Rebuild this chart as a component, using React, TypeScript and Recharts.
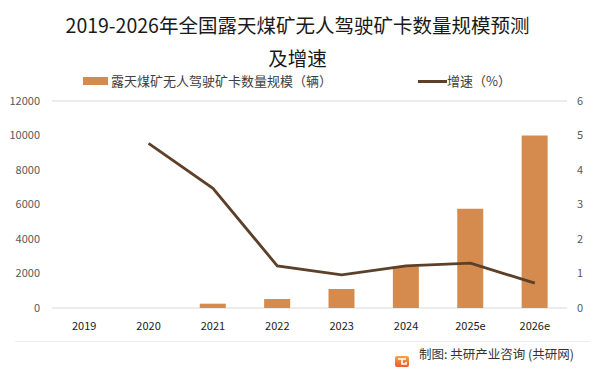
import React from "react";
import {
  ComposedChart,
  Bar,
  Line,
  XAxis,
  YAxis,
  CartesianGrid,
} from "recharts";

const years = ["2019", "2020", "2021", "2022", "2023", "2024", "2025e", "2026e"];
const truckCount = [0, 0, 250, 520, 1100, 2400, 5750, 10000];
const growthRate = [null, 4.77, 3.47, 1.22, 0.96, 1.22, 1.3, 0.72];
const leftTicks = [0, 2000, 4000, 6000, 8000, 10000, 12000];
const rightTicks = [0, 1, 2, 3, 4, 5, 6];

const BAR_COLOR = "#d48b4d";
const LINE_COLOR = "#5c4029";
const FONT = '"Microsoft YaHei", "Noto Sans CJK SC", "Noto Sans", sans-serif';

const chartData = years.map((year, i) => ({
  year,
  count: truckCount[i],
  growth: growthRate[i],
}));

function Logo() {
  return (
    <svg width={14} height={11} viewBox="0 0 14 11">
      <defs>
        <linearGradient id="logoGrad" x1="0" y1="0" x2="0" y2="1">
          <stop offset="0%" stopColor="#f7a24a" />
          <stop offset="100%" stopColor="#ee5a2b" />
        </linearGradient>
      </defs>
      <rect x={0} y={0} width={14} height={11} rx={2} fill="url(#logoGrad)" />
      <path d="M3 3h8M7 3v5h4v-2" stroke="#fff" strokeWidth={1.6} fill="none" />
    </svg>
  );
}

export default function App() {
  return (
    <div
      style={{
        position: "relative",
        width: 602,
        height: 374,
        background: "#fff",
        fontFamily: FONT,
        overflow: "hidden",
      }}
    >
      <style>{`body{margin:0}`}</style>
      <div
        style={{
          position: "absolute",
          top: 8,
          left: 0,
          width: 595,
          textAlign: "center",
          fontSize: 19.5,
          lineHeight: "33px",
          color: "#1a1a1a",
        }}
      >
        <div>2019-2026年全国露天煤矿无人驾驶矿卡数量规模预测</div>
        <div>及增速</div>
      </div>

      {/* legend */}
      <div style={{ position: "absolute", left: 83, top: 77, width: 25, height: 8, background: BAR_COLOR }} />
      <div style={{ position: "absolute", left: 111, top: 71, fontSize: 13, lineHeight: "20px", color: "#404040" }}>
        露天煤矿无人驾驶矿卡数量规模（辆）
      </div>
      <div style={{ position: "absolute", left: 418, top: 80, width: 29, height: 3, background: LINE_COLOR }} />
      <div style={{ position: "absolute", left: 447, top: 71, fontSize: 13, lineHeight: "20px", color: "#404040" }}>
        增速（%）
      </div>

      <div style={{ position: "absolute", left: 0, top: 0 }}>
        <ComposedChart
          width={602}
          height={374}
          data={chartData}
          margin={{ top: 101, right: 0, bottom: 36, left: 0 }}
          barCategoryGap={0}
        >
          <CartesianGrid stroke="#d9d9d9" vertical={false} />
          <XAxis
            dataKey="year"
            axisLine={false}
            tickLine={false}
            height={30}
            tickMargin={8}
            tick={{ fontSize: 11, fill: "#1a1a1a" }}
            interval={0}
          />
          <YAxis
            yAxisId="left"
            width={52}
            domain={[0, 12000]}
            ticks={leftTicks}
            axisLine={false}
            tickLine={false}
            tickMargin={6}
            tick={{ fontSize: 11, fill: "#595959" }}
          />
          <YAxis
            yAxisId="right"
            orientation="right"
            width={35}
            domain={[0, 6]}
            ticks={rightTicks}
            axisLine={false}
            tickLine={false}
            tickMargin={4}
            tick={{ fontSize: 11, fill: "#595959" }}
          />
          <Bar
            yAxisId="left"
            dataKey="count"
            fill={BAR_COLOR}
            barSize={26}
            isAnimationActive={false}
          />
          <Line
            yAxisId="right"
            dataKey="growth"
            stroke={LINE_COLOR}
            strokeWidth={2.8}
            dot={false}
            type="linear"
            isAnimationActive={false}
          />
        </ComposedChart>
      </div>

      {/* footer */}
      <div style={{ position: "absolute", left: 15, top: 341, width: 575, height: 1, background: "#ececec" }} />
      <div style={{ position: "absolute", left: 395, top: 348 }}>
        <Logo />
      </div>
      <div style={{ position: "absolute", left: 419, top: 345, fontSize: 12.5, lineHeight: "18px", color: "#333" }}>
        制图: 共研产业咨询 (共研网)
      </div>
    </div>
  );
}
